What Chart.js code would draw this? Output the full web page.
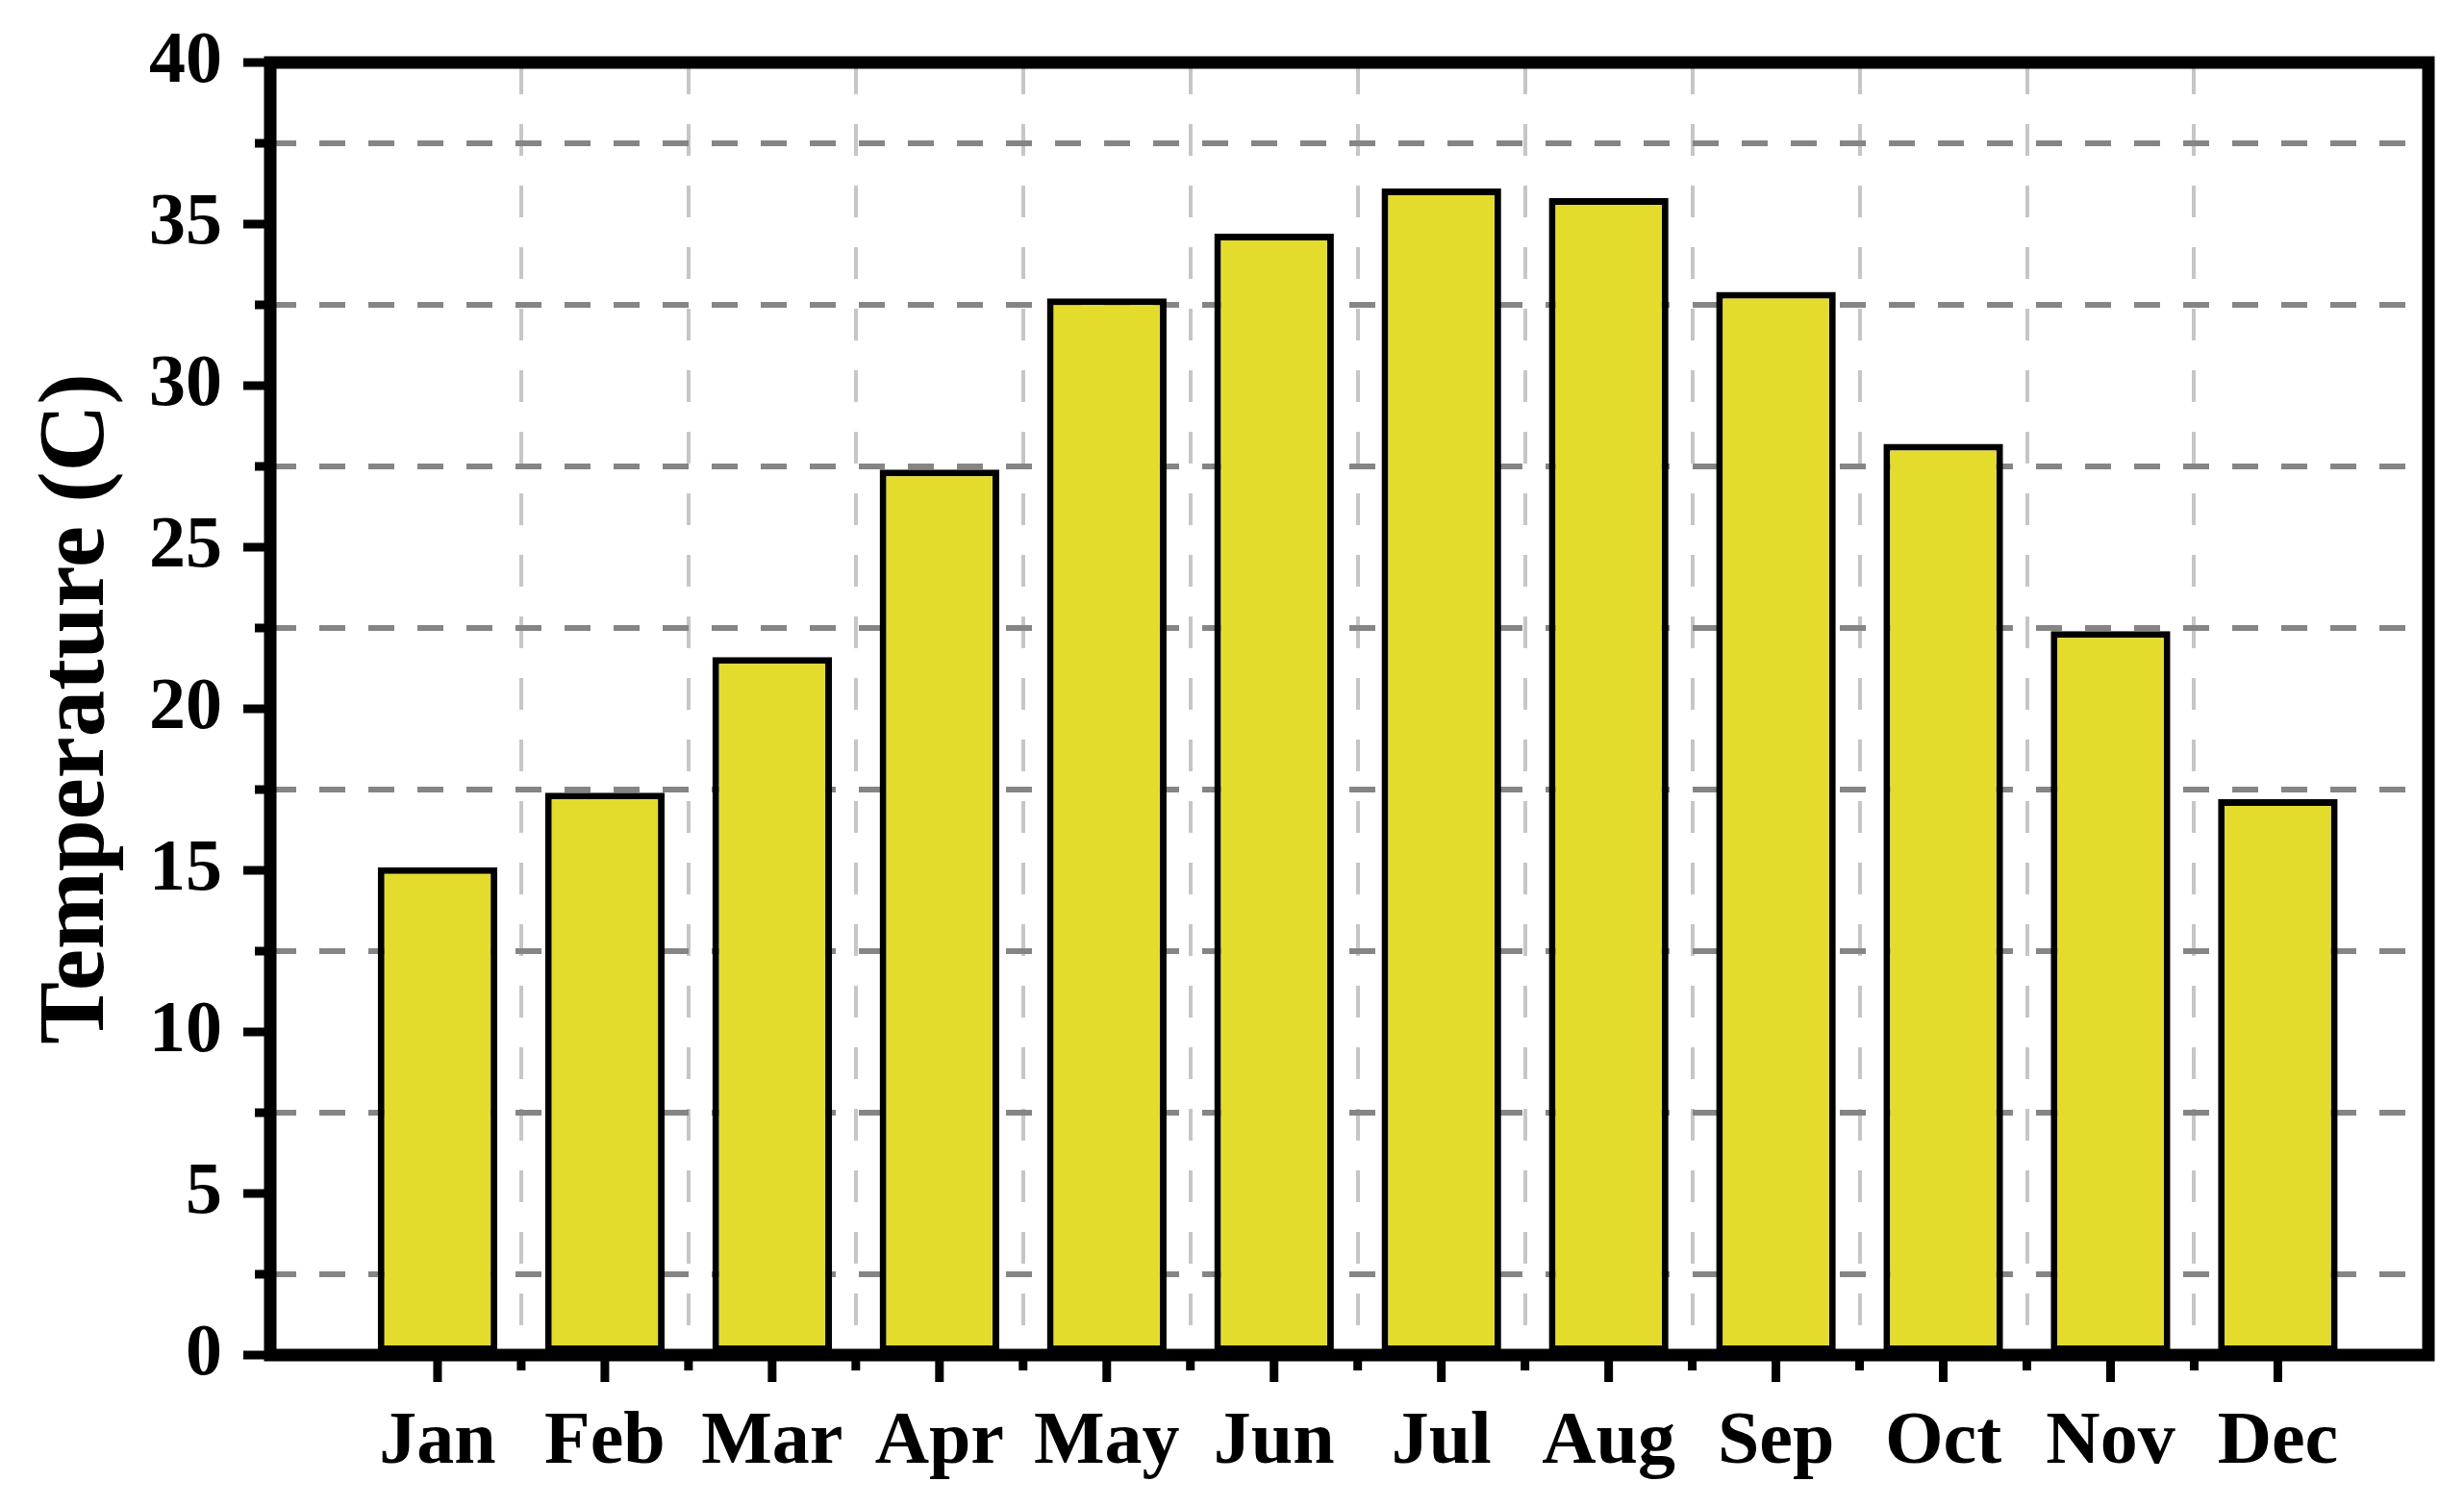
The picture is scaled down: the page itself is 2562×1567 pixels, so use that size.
<!DOCTYPE html>
<html>
<head>
<meta charset="utf-8">
<script src="https://cdn.jsdelivr.net/npm/chart.js@4.4.1/dist/chart.umd.min.js"></script>
<style>
  html, body { margin: 0; padding: 0; background: #ffffff; }
  #wrap { width: 2562px; height: 1567px; }
</style>
</head>
<body>
<div id="wrap"><canvas id="grafico" width="2562" height="1567"></canvas></div>
<script>
// datos
var meses = ["Jan", "Feb", "Mar", "Apr", "May", "Jun", "Jul", "Aug", "Sep", "Oct", "Nov", "Dec"];
var temperaturas = [15.1, 17.4, 21.6, 27.4, 32.7, 34.7, 36.1, 35.8, 32.9, 28.2, 22.4, 17.2];
var ticksY = [0, 5, 10, 15, 20, 25, 30, 35, 40];

var fuente = "'Liberation Serif', 'Times New Roman', serif";

// puntos en un eje lineal: Jan = 1 ... Dec = 12
var puntos = meses.map(function (m, i) {
  return { x: i + 1, y: temperaturas[i] };
});

function esMayorY(v) { return ticksY.indexOf(v) !== -1; }

// marco completo y marcas de los ejes
var marcoYTicks = {
  id: "marcoYTicks",
  afterDatasetsDraw: function (chart) {
    var ctx = chart.ctx;
    var a = chart.chartArea;
    var x = chart.scales.x;
    var y = chart.scales.y;
    ctx.save();
    ctx.strokeStyle = "#000";
    ctx.lineCap = "butt";
    ctx.lineWidth = 9;
    x.ticks.forEach(function (t) {
      var px = x.getPixelForValue(t.value);
      var len = Number.isInteger(t.value) ? 28 : 16;
      ctx.beginPath();
      ctx.moveTo(px, a.bottom);
      ctx.lineTo(px, a.bottom + len);
      ctx.stroke();
    });
    y.ticks.forEach(function (t) {
      var py = y.getPixelForValue(t.value);
      var len = esMayorY(t.value) ? 28 : 16;
      ctx.beginPath();
      ctx.moveTo(a.left, py);
      ctx.lineTo(a.left - len, py);
      ctx.stroke();
    });
    ctx.lineWidth = 13;
    ctx.strokeRect(a.left, a.top, a.right - a.left, a.bottom - a.top);
    ctx.restore();
  }
};

var ctx = document.getElementById("grafico").getContext("2d");

var myChart = new Chart(ctx, {
  type: "bar",
  data: {
    datasets: [
      {
        label: "Temperature",
        data: puntos,
        backgroundColor: "#e4dc2c",
        borderColor: "#000000",
        borderWidth: 7,
        borderSkipped: false,
        // el intervalo minimo es 0.5 (marcas intermedias), por eso > 1
        barPercentage: 1.43,
        categoryPercentage: 1.0
      }
    ]
  },
  options: {
    responsive: false,
    animation: false,
    layout: { padding: { left: 0, top: 65, right: 37, bottom: 0 } },
    plugins: {
      legend: { display: false },
      tooltip: { enabled: false }
    },
    scales: {
      x: {
        type: "linear",
        offset: false,
        min: 0,
        max: 12.9,
        afterBuildTicks: function (scale) {
          var t = [];
          for (var v = 1; v <= 12; v += 0.5) t.push({ value: v });
          scale.ticks = t;
        },
        afterFit: function (scale) {
          scale.height = 158;
          scale.paddingLeft = 0;
          scale.paddingRight = 0;
        },
        ticks: {
          autoSkip: false,
          maxRotation: 0,
          padding: 45,
          color: "#000",
          font: { family: fuente, size: 78, weight: "bold" },
          callback: function (v) {
            return Number.isInteger(v) ? meses[v - 1] : "";
          }
        },
        grid: {
          offset: false,
          drawTicks: false,
          lineWidth: 4,
          color: function (c) {
            return c.tick && !Number.isInteger(c.tick.value) ? "#c6c6c6" : "rgba(0,0,0,0)";
          }
        },
        border: { display: false, dash: [33, 31] }
      },
      y: {
        min: 0,
        max: 40,
        afterBuildTicks: function (scale) {
          var t = [];
          for (var v = 0; v <= 40; v += 2.5) t.push({ value: v });
          scale.ticks = t;
        },
        afterFit: function (scale) {
          scale.width = 281;
          scale.paddingTop = 0;
          scale.paddingBottom = 0;
        },
        ticks: {
          autoSkip: false,
          padding: 50,
          color: "#000",
          font: { family: fuente, size: 76, weight: "bold" },
          callback: function (v) {
            return esMayorY(v) ? String(v) : "";
          }
        },
        grid: {
          drawTicks: false,
          lineWidth: 6,
          color: function (c) {
            return c.tick && !esMayorY(c.tick.value) ? "#858585" : "rgba(0,0,0,0)";
          }
        },
        border: { display: false, dash: [27, 24] },
        title: {
          display: true,
          text: "Temperature (C)",
          color: "#000",
          padding: { top: 24, bottom: 0 },
          font: { family: fuente, size: 97, weight: "bold" }
        }
      }
    }
  },
  plugins: [marcoYTicks]
});
</script>
</body>
</html>
